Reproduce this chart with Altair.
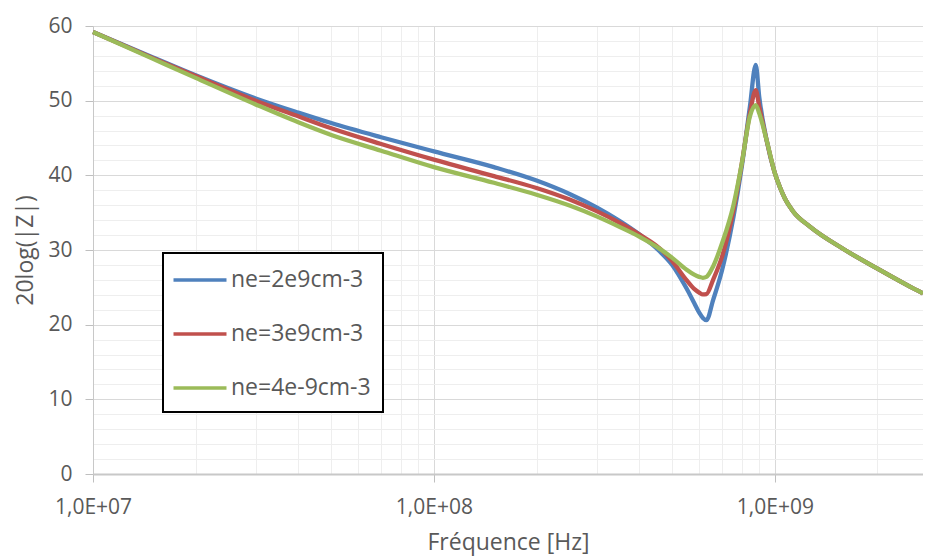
import altair as alt
import pandas as pd

freq = [1e7, 1.5e7, 2e7, 3e7, 4e7, 5e7, 7e7, 1e8, 1.5e8, 2e8, 2.5e8, 3e8, 3.5e8,
        4e8, 4.6e8, 5e8, 5.5e8, 5.8e8, 6e8, 6.15e8, 6.3e8, 6.59e8, 7e8, 7.56e8, 8e8,
        8.45e8, 8.79e8, 9e8, 9.46e8, 1e9, 1.035e9, 1.07e9, 1.13e9, 1.27e9,
        1.58e9, 2e9, 2.49e9, 2.72e9]

ne2 = [59.2, 55.8, 53.4, 50.3, 48.4, 47.0, 45.1, 43.2, 41.1, 39.3, 37.5, 35.7, 33.9,
       32.1, 29.8, 28.0, 24.9, 22.9, 21.6, 20.9, 20.6, 23.3, 27.3, 34.4, 41.2,
       49.2, 54.8, 50.5, 44.7, 40.3, 38.4, 36.9, 35.2, 33.1,
       30.2, 27.5, 25.1, 24.2]

ne3 = [59.2, 55.7, 53.3, 50.0, 47.9, 46.3, 44.2, 42.1, 39.9, 38.3, 36.75, 35.2, 33.65,
       32.1, 30.2, 28.5, 26.0, 24.8, 24.3, 24.05, 24.1, 26.0, 29.1, 35.3, 41.6,
       48.3, 51.4, 49.2, 44.7, 40.3, 38.4, 36.9, 35.2, 33.1,
       30.2, 27.5, 25.1, 24.2]

ne4 = [59.2, 55.6, 53.05, 49.5, 47.1, 45.4, 43.3, 41.1, 39.0, 37.4, 35.95, 34.5, 33.1,
       31.8, 30.15, 28.95, 27.4, 26.7, 26.4, 26.28, 26.4, 27.8, 30.9, 36.0, 41.6,
       47.9, 49.4, 48.3, 44.7, 40.3, 38.4, 36.9, 35.2, 33.1,
       30.2, 27.5, 25.1, 24.2]

series_names = ["ne=2e9cm-3", "ne=3e9cm-3", "ne=4e-9cm-3"]
series_colors = ["#4f81bd", "#c0504d", "#9bbb59"]

x_grid = [m * 10 ** e for e in (7, 8, 9) for m in range(1, 10) if m * 10 ** e <= 2.72e9]
y_grid = list(range(0, 61, 2))

rows = []
for name, vals in zip(series_names, [ne2, ne3, ne4]):
    for f, v in zip(freq, vals):
        rows.append({"f": f, "z": v, "serie": name})
df = pd.DataFrame(rows)

major_x = "abs(log(datum.value)/LN10 - round(log(datum.value)/LN10)) < 0.001"
major_y = "datum.value % 10 == 0"

font = "Open Sans"
txt = "#595959"

chart = alt.Chart(df).mark_line(strokeWidth=4.3, interpolate="monotone").encode(
    x=alt.X("f:Q", title="Fréquence [Hz]",
            scale=alt.Scale(type="log", domain=[1e7, 2.72e9], nice=False),
            axis=alt.Axis(values=x_grid, labelOverlap=False, labelFlush=False,
                          labelExpr=f"({major_x}) ? '1,0E+0' + round(log(datum.value)/LN10) : ''",
                          gridColor={"condition": {"test": major_x, "value": "#d9d9d9"}, "value": "#eeeeee"},
                          tickOpacity={"condition": {"test": major_x, "value": 1}, "value": 0},
                          tickSize=8, tickColor="#bfbfbf", labelPadding=14,
                          domainColor="#c8c8c8", domainWidth=2,
                          labelFontSize=21, titleFontSize=23, titlePadding=14,
                          labelColor=txt, titleColor=txt, titleFontWeight="normal")),
    y=alt.Y("z:Q", title="20log(|Z|)",
            scale=alt.Scale(domain=[0, 60], nice=False),
            axis=alt.Axis(values=y_grid, labelOverlap=False, labelFlush=False,
                          labelExpr=f"({major_y}) ? datum.label : ''",
                          gridColor={"condition": {"test": major_y, "value": "#d9d9d9"}, "value": "#eeeeee"},
                          tickOpacity={"condition": {"test": major_y, "value": 1}, "value": 0},
                          tickSize=8, tickColor="#bfbfbf", labelPadding=13,
                          domainColor="#c8c8c8", domainWidth=1,
                          labelFontSize=21, titleFontSize=23, titlePadding=10,
                          labelColor=txt, titleColor=txt, titleFontWeight="normal")),
    color=alt.Color("serie:N",
                    scale=alt.Scale(domain=series_names, range=series_colors),
                    legend=alt.Legend(title=None, orient="none", legendX=70, legendY=227,
                                      symbolType="M-2,0L2,0", symbolSize=702,
                                      symbolStrokeWidth=3.5, padding=12,
                                      rowPadding=27, labelOffset=16, symbolOffset=10,
                                      labelFontSize=23, labelColor=txt,
                                      strokeColor="black", fillColor="white")),
    order=alt.Order("serie:N"),
).properties(
    width=830, height=448,
    padding={"left": 85, "top": 18, "right": 0, "bottom": 85},
    autosize="none",
).configure(font=font).configure_view(stroke=None).configure_legend(strokeWidth=2)

chart.save("out.html", embed_options={"renderer": "svg", "actions": False})
